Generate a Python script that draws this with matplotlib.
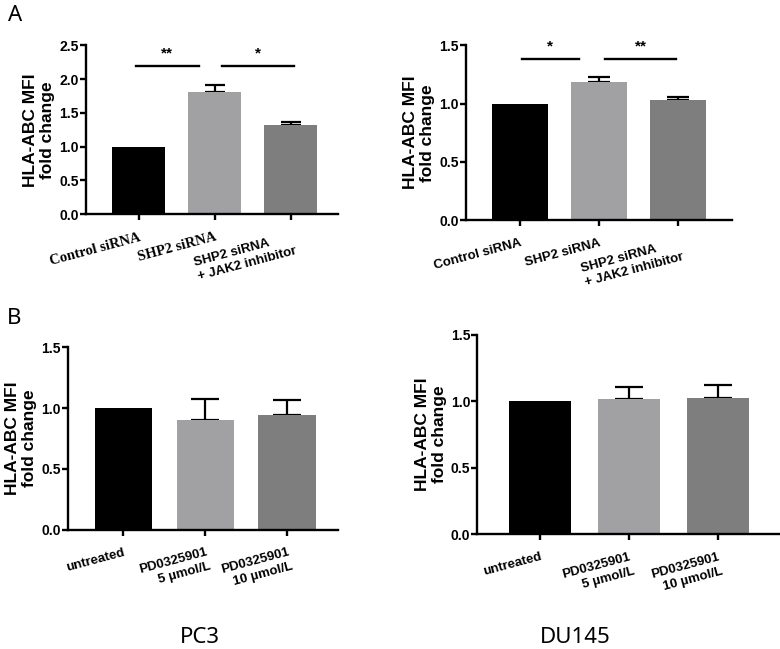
import matplotlib

matplotlib.use("Agg")
import matplotlib.pyplot as plt

plt.rcParams["font.family"] = ["Liberation Sans", "DejaVu Sans"]

BAR_COLORS = ["#000000", "#a1a1a4", "#7e7e7e"]
YLABEL = "HLA-ABC MFI\nfold change"

# panel A, left (PC3)
a1_labels = ["Control siRNA", "SHP2 siRNA", "SHP2 siRNA\n+ JAK2 inhibitor"]
a1_values = [1.00, 1.81, 1.32]
a1_errors = [0.0, 0.10, 0.04]
a1_sig = [(-0.04, 0.79, 2.20, "**"), (1.09, 2.04, 2.20, "*")]

# panel A, right (DU145)
a2_labels = ["Control siRNA", "SHP2 siRNA", "SHP2 siRNA\n+ JAK2 inhibitor"]
a2_values = [1.00, 1.185, 1.03]
a2_errors = [0.0, 0.048, 0.027]
a2_sig = [(0.02, 0.74, 1.383, "*"), (1.08, 1.98, 1.383, "**")]

# panel B, left (PC3)
b1_labels = ["untreated", "PD0325901\n5 µmol/L", "PD0325901\n10 µmol/L"]
b1_values = [1.00, 0.90, 0.94]
b1_errors = [0.0, 0.175, 0.125]

# panel B, right (DU145)
b2_labels = ["untreated", "PD0325901\n5 µmol/L", "PD0325901\n10 µmol/L"]
b2_values = [1.00, 1.02, 1.025]
b2_errors = [0.0, 0.09, 0.095]


def draw_panel(fig, rect, labels, values, errors, ymax, xlim, capsize,
               sig=(), serif_labels=(), multialign="left"):
    ax = fig.add_axes(rect)
    x = list(range(len(values)))
    ax.bar(x, values, width=0.70, color=BAR_COLORS, edgecolor="none", zorder=2)
    # only the bars that carry an SEM get an (upper) error bar
    ex = [xi for xi, e in zip(x, errors) if e > 0]
    ev = [v for v, e in zip(values, errors) if e > 0]
    ee = [e for e in errors if e > 0]
    ax.errorbar(ex, ev, yerr=[[0] * len(ee), ee], fmt="none",
                ecolor="black", elinewidth=1.6, capsize=capsize, capthick=1.6,
                zorder=1)
    ax.set_xlim(*xlim)
    ax.set_ylim(0, ymax)
    ax.set_yticks([i * 0.5 for i in range(int(ymax / 0.5) + 1)])
    ax.yaxis.set_major_formatter(matplotlib.ticker.FormatStrFormatter("%.1f"))
    for side in ("top", "right"):
        ax.spines[side].set_visible(False)
    for side in ("left", "bottom"):
        ax.spines[side].set_linewidth(1.7)
    ax.tick_params(axis="both", width=1.7, length=4, labelsize=10)
    ax.tick_params(axis="y", pad=1)
    ax.tick_params(axis="x", pad=8)
    for t in ax.get_yticklabels():
        t.set_fontweight("bold")
    ax.set_xticks(x)
    ax.set_xticklabels(labels, rotation=15, ha="right", va="top",
                       rotation_mode="anchor", fontweight="bold", fontsize=9.5,
                       linespacing=1.35)
    for i, t in enumerate(ax.get_xticklabels()):
        t.set_multialignment(multialign)
        if i in serif_labels:
            t.set_fontfamily("Liberation Serif")
            t.set_fontsize(10.5)
    ax.set_ylabel(YLABEL, fontsize=12.5, fontweight="bold", labelpad=3,
                  linespacing=1.15)
    for x0, x1, y, stars in sig:
        ax.plot([x0, x1], [y, y], color="black", lw=1.7, clip_on=False)
        ax.text((x0 + x1) / 2, y + ymax * 0.03, stars, ha="center",
                va="bottom", fontsize=11, fontweight="bold")
    return ax


fig = plt.figure(figsize=(7.8, 6.49), dpi=100)

draw_panel(fig, [0.110, 0.670, 0.323, 0.260], a1_labels, a1_values, a1_errors,
           2.5, (-0.70, 2.62), 7, sig=a1_sig, serif_labels=(0, 1))
draw_panel(fig, [0.597, 0.661, 0.341, 0.269], a2_labels, a2_values, a2_errors,
           1.5, (-0.69, 2.68), 8, sig=a2_sig)
draw_panel(fig, [0.087, 0.184, 0.346, 0.281], b1_labels, b1_values, b1_errors,
           1.5, (-0.68, 2.62), 10, multialign="right")
draw_panel(fig, [0.612, 0.177, 0.388, 0.307], b2_labels, b2_values, b2_errors,
           1.5, (-0.70, 2.70), 10, multialign="right")

fig.text(0.010, 0.993, "A", fontsize=16, family="Noto Sans", va="top", ha="left")
fig.text(0.009, 0.526, "B", fontsize=16, family="Noto Sans", va="top", ha="left")
fig.text(0.256, 0.002, "PC3", fontsize=16, family="Noto Sans", ha="center", va="bottom")
fig.text(0.738, 0.002, "DU145", fontsize=16, family="Noto Sans", ha="center", va="bottom")

fig.savefig("out.png", dpi=100)
